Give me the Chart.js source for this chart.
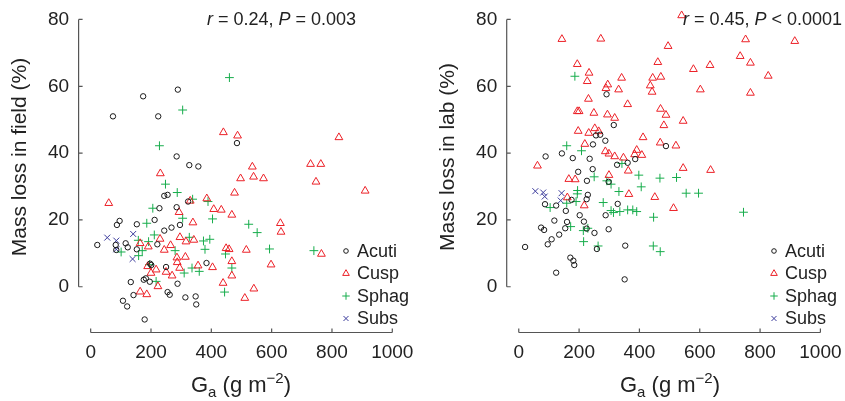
<!DOCTYPE html>
<html>
<head>
<meta charset="utf-8">
<script src="https://cdn.jsdelivr.net/npm/chart.js@4"></script>
<style>
  body { margin: 0; background: #fff; width: 845px; height: 401px; overflow: hidden; position: relative; }
  canvas { position: absolute; top: 0; }
  #fieldChart { left: 0; }
  #labChart { left: 428px; }
</style>
</head>
<body>
<canvas id="fieldChart" width="422" height="401"></canvas>
<canvas id="labChart" width="417" height="401"></canvas>
<script>
// tick labels
const xTicks = [0, 200, 400, 600, 800, 1000];
const yTicks = [0, 20, 40, 60, 80];
const seriesNames = ["Acuti", "Cusp", "Sphag", "Subs"];

// field chart: [Ga, mass loss %]
const fieldAcuti = [[74,51],[174,57],[224,51],[289,59],[485,43],[285,39],[327,36.4],[357,36],[244,27.2],[255,27.5],[323,25.5],[228,23.5],[285,23.8],[96,19.7],[87,18.5],[153,18.7],[212,20],[268,17.7],[244,16.8],[296,18.5],[22,12.5],[83,12.5],[85,11],[116,13],[123,11.8],[153,11.2],[221,12.7],[197,6.9],[201,6.5],[250,5.9],[384,7.1],[176,2.1],[183,2.5],[196,1.5],[133,1.4],[288,0.9],[142,-2.5],[255,-1.6],[262,-2.4],[107,-4.2],[121,-5.9],[314,-3.2],[348,-2.9],[350,-5.3],[179,-9.8]];
const fieldCusp = [[440,46.2],[487,45.2],[536,35.9],[231,33.9],[823,44.7],[729,36.7],[763,36.7],[540,32.9],[573,32.4],[747,31.4],[910,28.7],[629,19],[631,16.4],[765,9.8],[598,6.6],[541,-0.6],[516,11],[60,25],[293,22.3],[330,25.7],[339,19.2],[385,26.4],[408,23.2],[433,23],[468,21.5],[497,32.4],[477,28.1],[164,13],[191,12],[230,14.3],[265,12.4],[244,11],[296,14.8],[316,13.5],[342,14],[286,8.7],[314,8.9],[287,7.3],[295,5.6],[356,6.3],[404,5.8],[189,6.1],[217,5.1],[200,4.1],[270,3.3],[250,4.4],[223,0.1],[164,-1.5],[186,-2.3],[449,11.5],[459,11.2],[468,7.6],[468,3.3],[439,1.1],[511,-3.4]];
const fieldSphag = [[460,62.6],[305,52.9],[228,42.2],[524,18.7],[552,16.2],[593,11.3],[740,10.8],[248,30.7],[287,28.2],[338,26.2],[389,25.5],[206,23.5],[305,20.5],[404,20.3],[186,19],[211,15.5],[158,13.9],[192,13.5],[171,10.8],[101,10.4],[159,9.3],[280,10.8],[327,14.8],[374,13.7],[395,14.2],[379,11.2],[447,9.8],[468,5.6],[336,5.6],[310,4.1],[360,4.6],[195,6.6],[217,1.6],[444,-1.6]];
const fieldSubs = [[55,14.7],[85,13.8],[85,11.2],[141,15.8],[139,8.3]];

// lab chart
const labAcuti = [[291,57.6],[315,48.4],[256,45.3],[270,45.5],[287,43.7],[246,42.6],[488,42.1],[89,39],[143,39.9],[179,38.5],[235,38.3],[326,36.5],[361,37.1],[386,38.2],[245,35.2],[197,34.4],[226,31.7],[298,31.4],[175,26],[229,27.5],[225,26.2],[328,24.8],[87,24.7],[124,24.3],[156,22.7],[202,21.4],[288,21.4],[118,19.8],[160,19.4],[216,19.5],[74,17.7],[84,17],[154,17.5],[225,17.4],[251,16.1],[298,17.2],[134,15.6],[109,14.2],[96,12.7],[21,11.9],[259,11.3],[353,12.3],[171,8.7],[181,7.8],[184,6.5],[124,4.2],[351,2.2]];
const labCusp = [[143,74.1],[272,74.2],[495,72],[540,81.2],[752,74],[915,73.5],[734,69],[768,67],[634,66.3],[579,65.1],[827,63.1],[602,59],[768,58],[194,66.6],[233,64],[227,61.5],[295,60.5],[289,59.4],[341,62.5],[331,59],[461,67.2],[444,62.5],[471,62.8],[436,60.2],[442,58.3],[231,56.2],[361,54.6],[194,52.5],[200,52.5],[249,52],[294,51.5],[318,50.5],[470,53.2],[488,51.4],[481,48.3],[545,49.6],[197,46.6],[232,46],[252,47.4],[265,46.5],[219,42.7],[412,44.7],[469,43.1],[521,42.2],[287,40.5],[299,39.8],[318,39],[347,38.6],[391,40.9],[384,39.6],[408,39.4],[62,36.2],[363,34.7],[545,35.5],[636,34.9],[166,32.2],[187,32.1],[299,33.4],[365,27.7],[451,26.8],[161,26.7],[217,24.3],[513,23.5]];
const labSphag = [[186,63],[159,42.2],[208,40.7],[342,36.9],[523,32.7],[468,32.5],[555,28],[596,28],[745,22.3],[469,10.5],[250,32.9],[292,31.7],[306,30.7],[398,33.4],[406,29.9],[332,28.5],[195,28.8],[194,27.8],[190,25.5],[104,23.7],[159,25],[280,25.2],[306,22.8],[314,22.2],[335,22.5],[361,23],[378,23],[391,22.5],[447,20.8],[172,18],[214,16.8],[229,17.5],[215,13.5],[263,12.2],[446,12.2]];
const labSubs = [[55,28.6],[81,28.2],[86,27],[142,28],[139,25.8]];

const fieldStat = [["r", true], [" = 0.24, ", false], ["P", true], [" = 0.003", false]];
const labStat = [["r", true], [" = 0.45, ", false], ["P", true], [" < 0.0001", false]];

const FONT = "'Liberation Sans', Arial, Helvetica, sans-serif";
const TEXT = "#222";

const styles = [
  { pointStyle: "circle", radius: 2.7, color: "#1a1a1a" },
  { pointStyle: "triangle", radius: 4.5, color: "#ec2027" },
  { pointStyle: "cross", radius: 4.4, color: "#17ad4c" },
  { pointStyle: "crossRot", radius: 4.2, color: "#3b3b9c" },
];

const toPts = (arr) => arr.map(([x, y]) => ({ x, y }));

const drawParts = (ctx, parts, xRight, baseline, size) => {
  const fonts = parts.map(([, it]) => `${it ? "italic " : ""}${size}px ${FONT}`);
  let total = 0;
  parts.forEach(([t], i) => { ctx.font = fonts[i]; total += ctx.measureText(t).width; });
  let x = xRight - total;
  ctx.textAlign = "left";
  ctx.textBaseline = "alphabetic";
  parts.forEach(([t], i) => { ctx.font = fonts[i]; ctx.fillText(t, x, baseline); x += ctx.measureText(t).width; });
};

const rAxes = {
  id: "rAxes",
  afterDraw(chart, args, opts) {
    const { ctx, chartArea, scales: { x, y } } = chart;
    const ax = chartArea.left, ay = chartArea.bottom;
    ctx.save();
    ctx.strokeStyle = "#555";
    ctx.lineWidth = 1.2;
    ctx.beginPath();
    ctx.moveTo(x.getPixelForValue(xTicks[0]), ay);
    ctx.lineTo(x.getPixelForValue(xTicks[xTicks.length - 1]), ay);
    xTicks.forEach((v) => { const px = x.getPixelForValue(v); ctx.moveTo(px, ay); ctx.lineTo(px, ay - 4); });
    ctx.moveTo(ax, y.getPixelForValue(yTicks[0]));
    ctx.lineTo(ax, y.getPixelForValue(yTicks[yTicks.length - 1]));
    yTicks.forEach((v) => { const py = y.getPixelForValue(v); ctx.moveTo(ax, py); ctx.lineTo(ax + 4, py); });
    ctx.stroke();

    ctx.fillStyle = TEXT;
    ctx.font = `19px ${FONT}`;
    ctx.textAlign = "center";
    ctx.textBaseline = "middle";
    xTicks.forEach((v) => ctx.fillText(String(v), x.getPixelForValue(v), ay + 20));
    ctx.textAlign = "right";
    yTicks.forEach((v) => ctx.fillText(String(v), ax - 9.5, y.getPixelForValue(v)));

    // y title
    ctx.save();
    ctx.translate(20, 157);
    ctx.rotate(-Math.PI / 2);
    ctx.textAlign = "center";
    ctx.font = `21px ${FONT}`;
    ctx.fillText(opts.yTitle, 0, 0);
    ctx.restore();

    // x title: G_a (g m^-2)
    const big = `22px ${FONT}`, small = `15px ${FONT}`;
    const pieces = [["G", big, 0], ["a", small, 5], [" (g m", big, 0], ["\u22122", small, -9], [")", big, 0]];
    let w = 0;
    pieces.forEach(([t, f]) => { ctx.font = f; w += ctx.measureText(t).width; });
    let tx = opts.xTitleCenter - w / 2;
    ctx.textAlign = "left";
    ctx.textBaseline = "alphabetic";
    pieces.forEach(([t, f, dy]) => { ctx.font = f; ctx.fillText(t, tx, 392 + dy); tx += ctx.measureText(t).width; });

    // stat annotation
    drawParts(ctx, opts.stat, opts.statRight, 25, 18);

    // legend
    seriesNames.forEach((name, i) => {
      const st = styles[i];
      const ly = opts.legendTop + i * 22.5;
      ctx.strokeStyle = st.color;
      ctx.fillStyle = "rgba(0,0,0,0)";
      ctx.lineWidth = 1;
      Chart.helpers.drawPoint(ctx, { pointStyle: st.pointStyle, radius: st.radius * 0.85, rotation: 0, borderWidth: 1 }, opts.legendX, ly);
      ctx.fillStyle = TEXT;
      ctx.font = `18px ${FONT}`;
      ctx.textAlign = "left";
      ctx.textBaseline = "middle";
      ctx.fillText(name, opts.legendX + 11, ly + 1);
    });
    ctx.restore();
  },
};

const makeChart = (id, series, padL, padR, extra) => {
  new Chart(id, {
    type: "scatter",
    data: {
      datasets: series.map((arr, i) => ({
        label: seriesNames[i],
        data: toPts(arr),
        pointStyle: styles[i].pointStyle,
        pointRadius: styles[i].radius,
        pointHoverRadius: styles[i].radius,
        borderColor: styles[i].color,
        backgroundColor: "rgba(0,0,0,0)",
        borderWidth: 1,
      })),
    },
    options: {
      responsive: false,
      animation: false,
      devicePixelRatio: 1,
      layout: { padding: { left: padL, right: padR, top: 5, bottom: 68.5 } },
      scales: {
        x: { type: "linear", min: -40, max: 1060, display: false },
        y: { type: "linear", min: -13.7, max: 84.18, display: false },
      },
      plugins: {
        legend: { display: false },
        tooltip: { enabled: false },
        rAxes: extra,
      },
    },
    plugins: [rAxes],
  });
};

window.addEventListener("DOMContentLoaded", () => {
  makeChart("fieldChart", [fieldAcuti, fieldCusp, fieldSphag, fieldSubs], 78.6, 11.6, {
    yTitle: "Mass loss in field (%)", xTitleCenter: 241, stat: fieldStat, statRight: 356, legendX: 346, legendTop: 251,
  });
  makeChart("labChart", [labAcuti, labCusp, labSphag, labSubs], 78.7, 6.5, {
    yTitle: "Mass loss in lab (%)", xTitleCenter: 242, stat: labStat, statRight: 414, legendX: 346, legendTop: 251,
  });
});
</script>
</body>
</html>
